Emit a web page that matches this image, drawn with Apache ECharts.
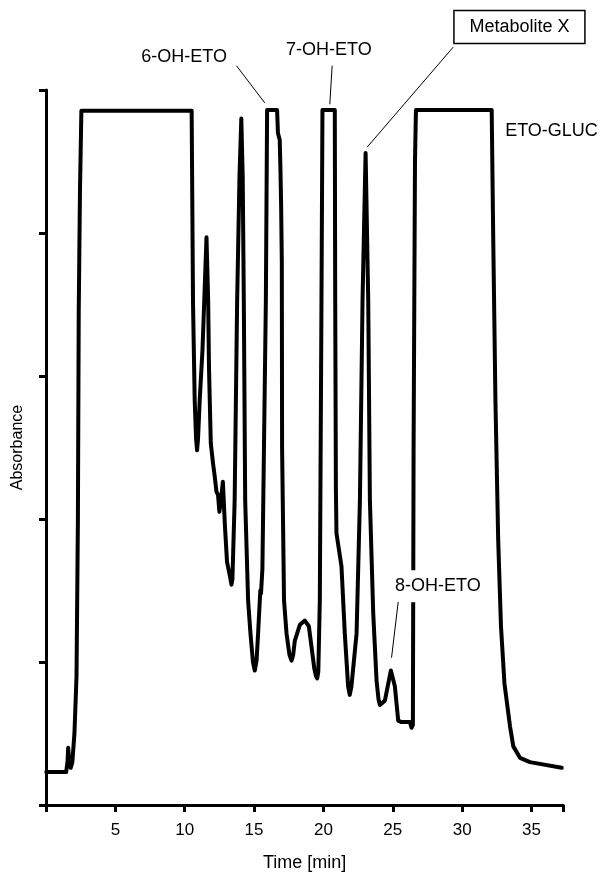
<!DOCTYPE html>
<html><head><meta charset="utf-8">
<script src="https://cdn.jsdelivr.net/npm/echarts@6/dist/echarts.min.js"></script>
<style>html,body{margin:0;padding:0;background:#fff}#c{width:601px;height:879px}</style>
</head><body><div id="c"></div>
<script>
// Retention time (min)
const timeMin = [
  0.02,1.45,1.55,1.6,1.68,1.78,1.9,2.05,2.2,2.3,2.36,2.45,2.55,
  10.5,10.6,10.72,10.82,10.89,10.96,11.08,11.28,11.41,11.57,11.69,11.75,11.88,12.04,12.16,12.29,12.4,12.5,12.6,12.75,12.82,12.9,13.05,13.28,13.37,13.44,13.6,
  13.78,13.95,14.08,14.18,14.26,14.36,14.57,14.74,14.92,15.05,15.18,15.29,15.45,15.5,15.55,15.6,15.85,15.94,
  16.66,16.72,16.85,16.9,16.95,17.0,17.02,17.16,17.34,17.55,17.7,17.82,17.94,18.3,18.66,18.95,19.15,19.35,19.47,19.55,19.63,19.74,19.86,19.93,
  20.82,20.85,20.9,20.94,21.3,21.54,21.78,21.9,22.02,22.39,22.63,22.82,23.04,23.23,23.35,23.59,23.83,23.97,24.07,24.2,24.43,24.86,25.15,25.39,25.63,26.23,26.35,26.45,26.5,26.6,26.67,
  32.13,32.25,32.4,32.6,32.8,33.05,33.45,33.69,34.17,34.89,37.18
];
// Absorbance (arbitrary units)
const absorbance = [
  0.23,0.23,0.30,0.40,0.30,0.26,0.30,0.5,0.9,2.0,3.46,4.3,4.855,
  4.855,3.5,2.83,2.56,2.48,2.56,2.83,3.18,3.53,3.97,3.53,3.06,2.53,2.39,2.30,2.19,2.17,2.05,2.12,2.26,2.26,1.95,1.7,1.59,1.54,1.58,2.13,
  3.53,4.4,4.80,4.4,3.53,2.13,1.43,1.2,1.0,0.94,1.01,1.2,1.5,1.48,1.48,1.65,3.53,4.86,
  4.86,4.7,4.65,4.45,4.2,3.8,2.5,1.43,1.2,1.05,1.01,1.05,1.15,1.26,1.29,1.25,1.1,0.95,0.9,0.885,0.93,1.43,3.53,4.86,
  4.86,3.53,2.2,1.9,1.67,1.2,0.83,0.77,0.83,1.2,2.13,3.53,4.56,3.53,2.13,1.34,0.87,0.74,0.70,0.71,0.73,0.94,0.83,0.59,0.58,0.58,0.54,0.56,2.5,4.5,4.86,
  4.86,3.9,2.83,1.85,1.25,0.85,0.55,0.41,0.33,0.30,0.26
];
const xTickLabels = [5,10,15,20,25,30,35];

// Peak annotations (data coordinates)
const labelTexts = ['6-OH-ETO','7-OH-ETO','Metabolite X','ETO-GLUC','8-OH-ETO'];
const labelPos   = [[9.96,5.23],[20.39,5.28],[34.13,5.44],[36.44,4.71],[28.25,1.53]];
const leaderFrom = [[13.73,5.17],[20.63,5.17],[29.36,5.30],null,[25.39,1.42]];
const leaderTo   = [[15.77,4.91],[20.46,4.90],[23.15,4.60],null,[24.91,1.03]];

const FONT = "'Liberation Sans', Arial, sans-serif";
const chart = echarts.init(document.getElementById('c'), null, {renderer:'canvas'});
const data = timeMin.map((t,i)=>[t, absorbance[i]]);

chart.setOption({
  animation:false,
  backgroundColor:'#fff',
  grid:{left:46,right:37.6,top:90,bottom:74,containLabel:false,outerBoundsMode:'none'},
  xAxis:{
    type:'value',min:0,max:37.3,interval:5,
    name:'Time [min]',nameLocation:'middle',nameGap:49,
    nameTextStyle:{color:'#000',fontSize:18,fontFamily:FONT},
    axisLine:{show:true,lineStyle:{color:'#000',width:3}},
    axisTick:{show:true,inside:false,length:7,lineStyle:{color:'#000',width:3}},
    axisLabel:{color:'#000',fontSize:17,fontFamily:FONT,margin:17,
      formatter:v=> xTickLabels.indexOf(v)>=0 ? String(v) : ''},
    splitLine:{show:false}
  },
  yAxis:{
    type:'value',min:0,max:5,interval:1,
    name:'Absorbance',nameLocation:'middle',nameGap:20,nameRotate:90,
    nameTextStyle:{color:'#000',fontSize:16,fontFamily:FONT},
    axisLine:{show:true,lineStyle:{color:'#000',width:3}},
    axisTick:{show:true,inside:false,length:7,lineStyle:{color:'#000',width:3}},
    axisLabel:{show:false},
    splitLine:{show:false}
  },
  series:[{
    type:'line',data:data,showSymbol:false,symbol:'none',
    lineStyle:{color:'#000',width:4,join:'round',cap:'round'},
    clip:false
  }]
});

const px = p => chart.convertToPixel({gridIndex:0}, p);
const graphics = [];
labelTexts.forEach((txt,i)=>{
  const c = px(labelPos[i]);
  const isBox = txt === 'Metabolite X';
  const isWhite = txt === '8-OH-ETO';
  if (isBox) {
    graphics.push({type:'rect',shape:{x:c[0]-65.5,y:c[1]-16.5,width:131,height:33},
      style:{fill:'#fff',stroke:'#000',lineWidth:1.5},z:10});
  }
  if (isWhite) {
    graphics.push({type:'rect',shape:{x:c[0]-45,y:c[1]-16,width:90,height:32},
      style:{fill:'#fff'},z:9});
  }
  graphics.push({type:'text',x:c[0],y:c[1],z:11,
    style:{text:txt,fill:'#000',font:'18px '+FONT,textAlign:'center',textVerticalAlign:'middle'}});
  if (leaderFrom[i]) {
    const a = px(leaderFrom[i]), b = px(leaderTo[i]);
    graphics.push({type:'line',z:11,shape:{x1:a[0],y1:a[1],x2:b[0],y2:b[1]},
      style:{stroke:'#000',lineWidth:1}});
  }
});
chart.setOption({graphic:graphics});
</script>
</body></html>
